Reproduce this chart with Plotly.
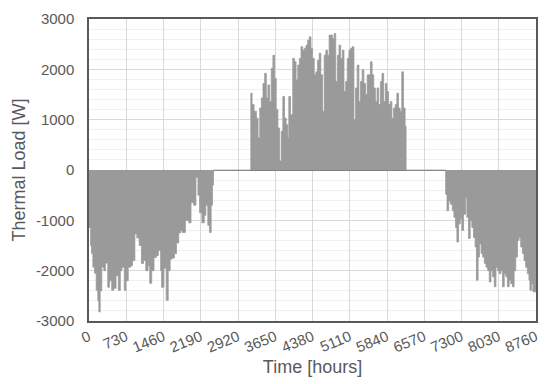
import plotly.graph_objects as go

# hourly thermal load, sampled off the envelope of the original chart
winter_start_hours = [0, 31, 50, 76, 109, 141, 173, 193, 219, 251, 290, 322, 368, 400, 445,
                      484, 530, 575, 614, 646, 691, 724, 769, 821, 853, 899, 937, 983, 1028,
                      1067, 1112, 1157, 1190, 1229, 1274, 1319, 1358, 1404, 1423, 1468, 1513,
                      1552, 1591, 1630, 1675, 1714, 1759, 1792, 1824, 1889, 1954, 1999, 2051,
                      2096, 2135, 2167, 2213, 2258, 2290, 2329, 2361, 2394, 2420, 2440]
winter_start_load = [-1140, -1500, -1660, -1930, -2050, -2390, -2600, -2820, -2400, -1930,
                     -2000, -1850, -2330, -2200, -2390, -2350, -2100, -2390, -2000, -1930,
                     -2390, -2200, -1930, -1900, -1800, -1270, -1350, -1500, -1860, -1800,
                     -2000, -1900, -2250, -2000, -1740, -1700, -1600, -2000, -2330, -1950,
                     -2590, -2000, -1770, -1750, -1660, -1450, -1250, -1200, -1240, -1000,
                     -1050, -650, -700, -150, -500, -850, -1050, -900, -700, -1100, -1240,
                     -700, -300, 0]

summer_hours = [3160, 3171, 3196, 3235, 3281, 3313, 3346, 3378, 3410, 3443, 3475, 3507, 3540,
                3572, 3605, 3637, 3669, 3702, 3734, 3767, 3799, 3831, 3864, 3896, 3916, 3948,
                3993, 4026, 4058, 4091, 4123, 4155, 4188, 4220, 4253, 4285, 4317, 4350, 4382,
                4414, 4447, 4479, 4512, 4544, 4576, 4609, 4641, 4673, 4706, 4738, 4771, 4803,
                4835, 4868, 4900, 4932, 4965, 4997, 5030, 5062, 5094, 5127, 5159, 5192, 5224,
                5256, 5289, 5321, 5353, 5386, 5418, 5451, 5483, 5515, 5548, 5580, 5612, 5645,
                5677, 5710, 5742, 5774, 5807, 5839, 5871, 5904, 5936, 5969, 6001, 6033, 6066,
                6098, 6130, 6163, 6195, 6214]
summer_load = [0, 1526, 1300, 1165, 1030, 640, 1230, 1430, 1720, 1920, 1430, 1690, 1360, 2020,
               2280, 1820, 1200, 835, 180, 770, 1460, 1030, 900, 640, 1460, 1100, 2217, 2150,
               1790, 2085, 2217, 2450, 2380, 2420, 2480, 2580, 2645, 2420, 2217, 1890, 1950,
               2180, 2320, 1890, 1165, 2280, 2380, 2280, 2680, 2680, 2610, 2710, 1760, 2280,
               2480, 2217, 2380, 1560, 1760, 2217, 2380, 2420, 2450, 1000, 1630, 2085, 1360,
               1760, 1990, 1720, 1500, 1890, 1890, 2150, 1890, 1630, 1360, 1630, 1300, 1760,
               1920, 1360, 1720, 1560, 1300, 1360, 1030, 1230, 1300, 1525, 1230, 1165, 1950,
               1230, 870, 0]

winter_end_hours = [6951, 6990, 7016, 7048, 7081, 7120, 7152, 7184, 7210, 7243, 7275, 7308,
                    7340, 7379, 7405, 7437, 7470, 7502, 7534, 7567, 7593, 7625, 7651, 7684,
                    7716, 7748, 7781, 7813, 7845, 7878, 7910, 7943, 7975, 8007, 8040, 8072,
                    8104, 8137, 8169, 8201, 8234, 8266, 8299, 8331, 8363, 8396, 8428, 8460,
                    8493, 8525, 8557, 8590, 8622, 8641, 8674, 8700, 8760]
winter_end_load = [0, -480, -810, -620, -680, -810, -940, -1140, -1430, -1070, -970, -1200,
                   -880, -550, -940, -1360, -1010, -1140, -1340, -1530, -2190, -1730, -1470,
                   -1660, -1730, -1860, -1930, -2000, -2225, -2000, -2120, -2320, -1930, -2000,
                   -2060, -2000, -2320, -2060, -2120, -2320, -2190, -2260, -2320, -2000, -1730,
                   -1400, -1340, -1530, -1660, -1800, -1930, -2060, -2190, -2390, -2260, -2420,
                   -2420]

x_ticks = [0, 730, 1460, 2190, 2920, 3650, 4380, 5110, 5840, 6570, 7300, 8030, 8760]
y_ticks = [-3000, -2000, -1000, 0, 1000, 2000, 3000]
y_tick_labels = ["-3000", "-2000", "-1000", "0", "1000", "2000", "3000"]  # plain hyphen, not unicode minus

hours = winter_start_hours + summer_hours + winter_end_hours
load = winter_start_load + summer_load + winter_end_load

fig = go.Figure(go.Scatter(
    x=hours,
    y=load,
    mode="lines",
    line=dict(color="#9a9a9a", width=0.8, shape="hv"),
    fill="tozeroy",
    fillcolor="#9a9a9a",
    hoverinfo="skip",
))

font = dict(family="Liberation Sans, Arial, sans-serif", size=15, color="#595959")

fig.update_layout(
    width=550,
    height=384,
    margin=dict(l=89, r=10, t=17, b=63),
    paper_bgcolor="white",
    plot_bgcolor="white",
    font=font,
    showlegend=False,
    xaxis=dict(
        range=[0, 8760],
        tickvals=x_ticks,
        tickangle=-22,
        showgrid=True,
        gridcolor="#d9d9d9",
        zeroline=False,
        showline=True,
        mirror=True,
        linecolor="#595959",
        linewidth=1.5,
        ticks="",
        title=dict(text="Time [hours]", standoff=6),
    ),
    yaxis=dict(
        range=[-3000, 3000],
        tickvals=y_ticks,
        ticktext=y_tick_labels,
        showgrid=True,
        gridcolor="#d9d9d9",
        minor=dict(dtick=200, showgrid=True, gridcolor="#f0f0f0"),
        zeroline=True,
        zerolinecolor="#808080",
        zerolinewidth=1,
        showline=True,
        mirror=True,
        linecolor="#595959",
        linewidth=1.5,
        ticks="",
        ticklabelstandoff=10,
        title=dict(text="Thermal Load [W]", standoff=6),
    ),
)

# drop the browser's default 8px body margin so the 550x384 figure sits flush
fig.write_html(
    "out.html",
    config={"displayModeBar": False},
    post_script="document.body.style.margin='0';",
)
